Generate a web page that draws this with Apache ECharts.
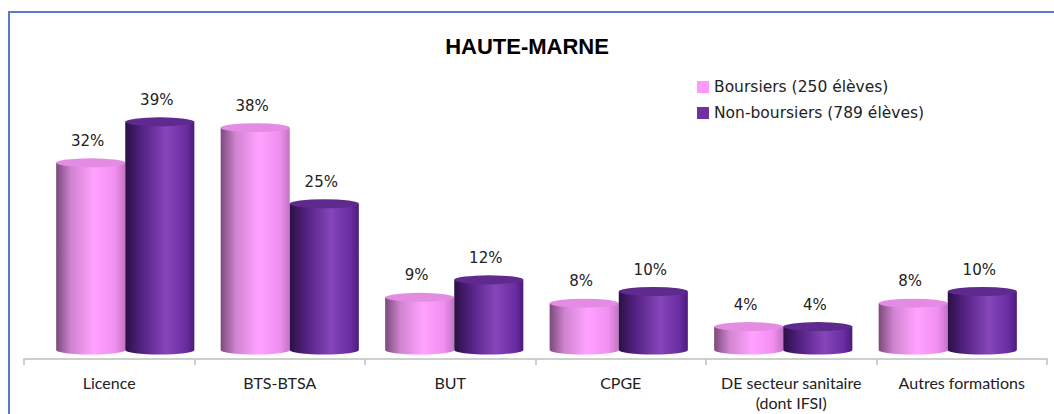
<!DOCTYPE html>
<html>
<head>
<meta charset="utf-8">
<script src="https://cdn.jsdelivr.net/npm/echarts@6/dist/echarts.min.js"></script>
<style>
  html, body { margin: 0; padding: 0; background: #fff; }
  #chart { width: 1054px; height: 414px; }
</style>
</head>
<body>
<div id="chart"></div>
<script>
// données
var categories = ['Licence', 'BTS-BTSA', 'BUT', 'CPGE', 'DE secteur sanitaire\n(dont IFSI)', 'Autres formations'];
var boursiers = [32, 38, 9, 8, 4, 8];
var nonBoursiers = [39, 25, 12, 10, 4, 10];
var seriesNames = ['Boursiers (250 élèves)', 'Non-boursiers (789 élèves)'];

var axisFont = 'Lato, "Noto Sans", sans-serif';
var labelFont = '"DejaVu Sans", "Noto Sans", sans-serif';

// dégradés "cylindre"
var pinkBody = new echarts.graphic.LinearGradient(0, 0, 1, 0, [
  { offset: 0, color: '#7a4a7a' },
  { offset: 0.22, color: '#d184d1' },
  { offset: 0.55, color: '#ffa2ff' },
  { offset: 0.85, color: '#f28ff2' },
  { offset: 1, color: '#c274c2' }
]);
var purpleBody = new echarts.graphic.LinearGradient(0, 0, 1, 0, [
  { offset: 0, color: '#2b1045' },
  { offset: 0.25, color: '#552285' },
  { offset: 0.6, color: '#8646ba' },
  { offset: 0.88, color: '#6a2ca2' },
  { offset: 1, color: '#4b1c7a' }
]);

function cylinder(slot, body, cap) {
  return function (params, api) {
    var idx = api.value(0), val = api.value(1);
    var top = api.coord([idx, val]);
    var base = api.coord([idx, 0]);
    var catW = api.size([1, 0])[0];
    var w = catW * 0.42;
    var l = top[0] - w + slot * w, r = l + w;
    var rx = w / 2, ry = 4.5;
    var t = top[1], b = base[1];
    return {
      type: 'group',
      children: [
        {
          type: 'path',
          shape: {
            pathData: 'M' + l + ' ' + t + 'L' + l + ' ' + b +
              'A' + rx + ' ' + ry + ' 0 0 0 ' + r + ' ' + b +
              'L' + r + ' ' + t + 'Z'
          },
          style: { fill: body }
        },
        {
          type: 'path',
          shape: {
            pathData: 'M' + l + ' ' + t +
              'A' + rx + ' ' + ry + ' 0 0 0 ' + r + ' ' + t +
              'A' + rx + ' ' + ry + ' 0 0 0 ' + l + ' ' + t + 'Z'
          },
          style: { fill: cap }
        },
        {
          type: 'text',
          x: l + rx - 3,
          y: t - ry - 10,
          style: {
            text: val + '%',
            align: 'center',
            verticalAlign: 'bottom',
            fontSize: 15,
            fontFamily: labelFont,
            fill: '#222'
          }
        }
      ]
    };
  };
}

function toData(arr) {
  return arr.map(function (v, i) { return [i, v]; });
}

var myChart = echarts.init(document.getElementById('chart'), null, { renderer: 'svg' });
var option = {
  backgroundColor: '#fff',
  animation: false,
  title: {
    text: 'HAUTE-MARNE',
    left: 'center',
    top: 30,
    textStyle: { fontFamily: '"Liberation Sans", Arial, sans-serif', fontSize: 22, fontWeight: 'bold', color: '#000' }
  },
  graphic: [{
    type: 'rect',
    shape: { x: 9, y: 12, width: 1200, height: 600 },
    style: { fill: 'none', stroke: '#5b7bc8', lineWidth: 2 },
    silent: true
  }],
  legend: {
    data: seriesNames,
    orient: 'vertical',
    left: 692,
    top: 74,
    itemWidth: 12,
    itemHeight: 12,
    itemGap: 10,
    icon: 'rect',
    textStyle: { fontFamily: labelFont, fontSize: 15.5, lineHeight: 15, color: '#222' }
  },
  grid: [
    { left: 24, right: 7, top: 116, bottom: 55 },
    { left: 43, right: 24, top: 116, bottom: 64 }
  ],
  xAxis: [
    {
      type: 'category',
      gridIndex: 0,
      data: categories,
      axisLine: { lineStyle: { color: '#bfbfbf', width: 1.5 } },
      axisTick: { show: true, length: 6, lineStyle: { color: '#bfbfbf', width: 1.5 } },
      axisLabel: { interval: 0, margin: 13, fontFamily: axisFont, fontSize: 16, color: '#222', lineHeight: 20 }
    },
    {
      type: 'category',
      gridIndex: 1,
      data: categories,
      show: false
    }
  ],
  yAxis: [
    { type: 'value', gridIndex: 0, min: 0, max: 40, show: false },
    { type: 'value', gridIndex: 1, min: 0, max: 40, show: false }
  ],
  series: [
    {
      name: seriesNames[0],
      type: 'custom',
      xAxisIndex: 1,
      yAxisIndex: 1,
      itemStyle: { color: '#ff99ff' },
      encode: { x: 0, y: 1 },
      renderItem: cylinder(0, pinkBody, '#e48ce4'),
      data: toData(boursiers)
    },
    {
      name: seriesNames[1],
      type: 'custom',
      xAxisIndex: 1,
      yAxisIndex: 1,
      itemStyle: { color: '#7030a0' },
      encode: { x: 0, y: 1 },
      renderItem: cylinder(1, purpleBody, '#5e2a8e'),
      data: toData(nonBoursiers)
    }
  ]
};
myChart.setOption(option);
</script>
</body>
</html>
